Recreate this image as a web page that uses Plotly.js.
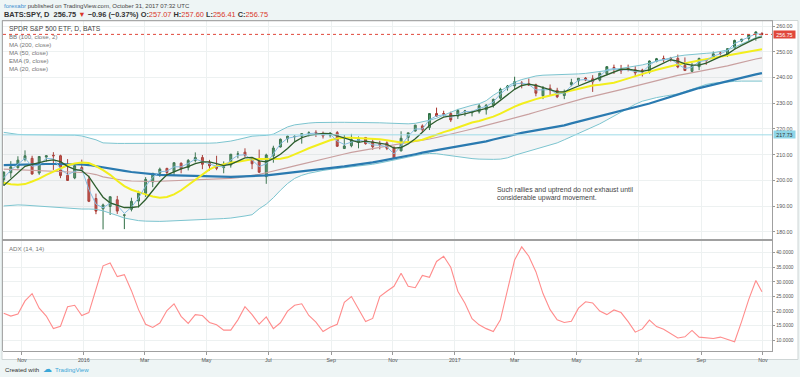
<!DOCTYPE html>
<html><head><meta charset="utf-8">
<script src="https://cdn.plot.ly/plotly-3.0.1.min.js"></script>
<style>html,body{margin:0;padding:0;background:#eef5f5;}#chart{width:800px;height:377px;}</style>
</head><body><div id="chart"></div>
<script>
// Weekly time axis (mid-week dates)
const weeks = ["2015-10-14","2015-10-21","2015-10-28","2015-11-04","2015-11-11","2015-11-18","2015-11-25","2015-12-02","2015-12-09","2015-12-16","2015-12-23","2015-12-30",
"2016-01-06","2016-01-13","2016-01-20","2016-01-27","2016-02-03","2016-02-10","2016-02-17","2016-02-24","2016-03-02","2016-03-09","2016-03-16","2016-03-23","2016-03-30","2016-04-06","2016-04-13","2016-04-20","2016-04-27","2016-05-04","2016-05-11","2016-05-18","2016-05-25","2016-06-01","2016-06-08","2016-06-15","2016-06-22","2016-06-29","2016-07-06","2016-07-13","2016-07-20","2016-07-27","2016-08-03","2016-08-10","2016-08-17","2016-08-24","2016-08-31","2016-09-07","2016-09-14","2016-09-21","2016-09-28","2016-10-05","2016-10-12","2016-10-19","2016-10-26","2016-11-02","2016-11-09","2016-11-16","2016-11-23","2016-11-30","2016-12-07","2016-12-14","2016-12-21","2016-12-28",
"2017-01-04","2017-01-11","2017-01-18","2017-01-25","2017-02-01","2017-02-08","2017-02-15","2017-02-22","2017-03-01","2017-03-08","2017-03-15","2017-03-22","2017-03-29","2017-04-05","2017-04-12","2017-04-19","2017-04-26","2017-05-03","2017-05-10","2017-05-17","2017-05-24","2017-05-31","2017-06-07","2017-06-14","2017-06-21","2017-06-28","2017-07-05","2017-07-12","2017-07-19","2017-07-26","2017-08-02","2017-08-09","2017-08-16","2017-08-23","2017-08-30","2017-09-06","2017-09-13","2017-09-20","2017-09-27","2017-10-04","2017-10-11","2017-10-18","2017-10-25","2017-10-31"];

const open  = [200.3,203.0,205.0,208.2,208.6,202.9,209.1,209.8,209.6,202.0,201.0,205.0,
200.5,193.0,189.0,189.9,192.5,186.5,188.8,192.0,195.0,199.4,202.8,204.7,203.4,206.7,205.0,207.8,208.9,206.9,205.6,205.0,206.0,210.2,211.0,208.5,207.4,201.5,209.5,213.0,216.2,217.0,217.2,218.3,218.7,218.3,217.6,218.6,212.4,213.5,214.9,216.7,215.0,214.2,214.6,212.9,211.5,216.7,219.2,221.2,220.6,226.0,226.0,226.0,
225.0,226.7,226.3,226.7,227.5,229.2,232.0,236.0,236.8,237.9,237.6,237.2,232.9,235.8,235.0,233.0,237.2,238.7,239.8,239.5,239.0,241.5,243.9,243.1,243.6,243.0,242.9,242.1,246.3,247.4,247.5,247.4,244.7,242.4,244.2,247.0,248.0,249.5,249.0,251.5,254.2,255.2,257.0,257.07];
const high  = [203.4,207.5,209.4,211.7,209.6,209.2,209.8,211.0,210.0,208.3,206.5,208.1,
201.9,194.9,191.0,193.7,194.0,186.9,193.3,196.0,201.3,202.8,205.0,204.9,207.0,207.0,208.3,210.9,209.9,208.0,209.6,207.4,210.3,211.4,212.5,209.0,212.0,210.4,213.5,216.3,217.4,217.6,218.2,219.1,219.5,219.0,218.8,219.2,217.6,218.1,217.1,216.9,216.0,215.4,215.2,213.2,219.1,218.5,221.6,221.8,226.0,228.3,227.1,226.7,
227.8,227.4,227.1,229.7,229.6,231.8,236.0,237.1,240.3,238.6,239.6,237.6,236.7,237.3,236.0,235.3,239.5,239.7,240.2,240.9,241.7,244.4,245.0,244.9,245.0,244.4,243.4,246.6,247.6,248.5,248.0,248.9,247.8,245.6,247.7,247.3,250.1,250.2,251.3,254.7,255.0,256.7,257.9,257.60];
const low   = [198.0,201.0,204.6,207.4,202.3,202.2,207.3,204.1,200.9,200.0,200.5,203.8,
191.6,186.9,181.0,186.6,187.0,181.1,188.0,189.5,193.6,197.4,201.4,202.0,202.1,202.8,203.9,207.0,204.4,203.8,204.0,202.8,205.0,208.6,209.1,204.4,203.0,198.7,206.9,212.8,214.7,215.1,214.3,217.1,216.9,216.3,216.7,213.0,212.3,212.9,212.5,213.9,211.9,212.1,211.8,208.4,211.3,215.3,219.0,218.7,219.6,224.7,224.9,222.7,
223.9,225.0,224.9,226.0,225.6,228.3,231.5,234.9,235.5,235.8,236.8,232.7,231.6,233.1,232.0,231.6,236.6,237.0,238.6,234.4,238.5,240.9,241.4,241.4,242.4,240.5,240.4,241.5,245.9,245.9,246.2,243.6,242.9,242.1,242.9,244.9,247.5,248.6,248.0,251.3,253.7,254.2,254.3,256.41];
const close = [203.3,205.3,207.9,209.6,202.5,209.3,209.6,209.6,201.9,200.0,205.7,203.9,
191.9,188.1,190.5,193.7,188.1,186.6,191.9,195.1,200.4,202.8,204.4,203.1,206.9,204.5,207.8,208.9,206.3,205.7,204.7,205.5,210.2,210.3,209.8,206.5,203.2,209.9,212.6,216.0,217.2,217.1,218.2,218.5,218.5,217.3,218.4,213.3,213.4,215.9,216.3,214.3,213.1,213.9,212.5,208.6,216.4,218.5,221.5,219.7,226.0,225.0,225.7,223.5,
227.2,227.0,226.7,229.0,229.3,231.5,235.4,236.7,238.4,237.7,237.0,233.9,235.7,235.2,232.5,234.6,238.1,239.7,239.0,238.3,241.7,244.2,243.4,242.6,243.1,241.8,242.1,246.4,247.3,246.9,247.4,244.1,242.7,244.6,247.4,246.6,249.2,249.4,251.2,254.4,254.9,256.7,257.7,256.75];

// Indicator readings
const bbUpper = [218.7,218.3,217.9,217.8,217.8,217.8,217.8,217.8,217.8,217.8,217.6,217.3,
216.7,215.8,214.6,214.4,214.4,214.4,214.4,214.4,214.3,214.3,214.3,214.3,214.3,214.3,214.3,214.3,214.4,214.5,214.6,214.9,215.3,215.9,216.6,217.2,217.4,217.5,218.0,219.5,220.8,221.6,222.0,222.3,222.5,222.6,222.6,222.6,222.6,222.6,222.6,222.6,222.5,222.4,222.3,222.2,222.1,222.0,222.2,222.7,223.4,224.2,225.2,226.5,
227.6,228.5,229.2,229.8,231.0,233.1,234.8,236.5,238.2,239.2,240.0,240.6,240.9,241.0,241.0,241.0,241.1,241.4,241.6,241.9,242.3,242.7,243.1,243.5,244.0,244.5,244.9,245.6,246.3,247.0,247.7,248.3,248.7,249.0,249.3,249.4,249.6,250.1,250.7,251.8,253.1,254.4,255.5,256.3];
const bbBasis = [204.4,204.3,204.2,204.1,204.0,203.9,203.8,203.7,203.6,203.5,203.3,203.1,
202.8,202.3,201.4,200.9,200.4,200.0,199.8,199.7,199.6,199.6,199.7,199.8,199.9,200.0,200.0,200.1,200.2,200.3,200.4,200.6,200.8,201.1,201.5,201.9,202.4,203.0,203.6,204.3,205.0,205.7,206.4,207.1,207.8,208.5,209.1,209.7,210.3,210.9,211.4,212.0,212.5,213.0,213.5,214.0,214.4,214.8,215.2,215.6,216.1,216.7,217.3,217.9,
218.6,219.3,220.0,220.7,221.4,222.1,222.8,223.5,224.2,225.0,225.8,226.6,227.4,228.2,229.0,229.8,230.6,231.4,232.1,232.7,233.3,233.9,234.6,235.3,236.0,236.7,237.4,238.1,238.8,239.5,240.2,240.8,241.3,241.8,242.3,242.8,243.3,243.9,244.5,245.2,245.9,246.6,247.2,247.6];
const bbLower = [190.1,190.3,190.5,190.4,190.2,190.0,189.8,189.6,189.4,189.2,189.0,188.9,
188.9,188.8,188.2,187.4,186.4,185.4,184.8,184.4,184.2,184.1,184.1,184.2,184.3,184.4,184.5,184.6,184.7,184.9,185.0,185.2,185.4,185.7,186.2,186.7,189.0,190.8,193.3,196.2,198.8,200.8,202.0,202.8,203.4,203.9,204.3,204.6,204.9,205.2,205.5,205.9,206.3,206.8,207.3,207.9,208.5,209.1,209.7,210.2,210.5,210.4,210.0,209.6,
209.2,208.8,208.5,208.3,208.2,208.2,208.3,208.8,209.8,210.6,211.4,212.1,212.8,213.5,214.6,215.8,217.0,218.2,219.3,220.6,222.0,223.5,225.1,226.7,228.2,229.6,230.8,231.6,232.2,232.7,233.1,233.6,234.5,235.5,236.5,237.3,237.8,238.1,238.3,238.5,238.6,238.6,238.6,238.6];
const ma200 = [206.0,206.1,206.2,206.3,206.4,206.4,206.4,206.4,206.4,206.4,206.3,206.2,
206.0,205.5,205.0,204.6,204.2,203.7,203.3,203.0,202.7,202.5,202.2,202.1,202.0,201.8,201.7,201.7,201.6,201.5,201.5,201.4,201.4,201.5,201.6,201.7,201.8,202.0,202.3,202.6,203.0,203.3,203.6,204.0,204.3,204.6,204.9,205.2,205.5,205.9,206.2,206.6,207.0,207.5,208.0,208.5,209.1,209.6,210.2,210.8,211.3,211.9,212.4,212.9,
213.3,213.7,214.2,214.6,215.2,215.9,216.6,217.3,218.0,218.5,219.0,219.5,220.0,220.4,220.9,221.4,222.2,222.9,223.6,224.3,225.0,225.7,226.4,227.1,227.8,228.4,229.0,229.9,230.8,231.7,232.6,233.5,234.3,235.1,235.9,236.6,237.3,238.0,238.7,239.4,240.0,240.6,241.2,241.7];
const ma50 = [199.1,198.5,198.3,198.6,199.6,200.7,202.2,203.5,204.9,205.9,206.6,207.0,
206.8,205.6,204.0,202.2,199.9,197.8,196.4,195.4,194.6,193.8,193.3,193.6,194.6,196.2,198.2,200.2,202.4,204.3,205.6,206.4,206.9,207.3,207.8,208.2,208.3,208.3,208.3,208.4,209.0,210.0,211.3,212.5,213.6,214.6,215.6,216.3,216.6,216.6,216.5,216.4,216.2,216.0,215.6,215.1,214.8,214.9,215.3,215.8,216.8,217.9,218.8,219.6,
220.6,221.6,222.5,223.1,223.8,224.8,226.0,227.4,228.7,229.8,230.8,231.6,232.3,233.0,233.6,234.2,234.9,235.6,236.3,236.9,237.2,237.5,238.0,238.8,239.7,240.6,241.4,242.2,243.0,243.8,244.4,245.0,245.6,246.1,246.6,247.1,247.6,248.0,248.4,248.9,249.5,250.0,250.6,251.0];
const ema9 = [201.0,204.0,206.3,208.6,205.5,206.0,208.6,208.4,204.6,202.3,203.5,204.5,
196.5,190.8,189.4,191.2,190.4,187.2,189.6,193.2,197.8,201.2,203.4,203.6,205.3,205.3,206.6,208.3,207.4,206.3,205.5,205.3,207.9,209.8,210.0,208.0,205.4,206.5,210.5,214.2,216.4,216.9,217.5,218.2,218.4,217.8,218.0,215.3,214.0,214.9,215.8,215.0,213.8,213.7,213.1,210.3,213.5,217.2,220.0,220.0,223.6,225.1,225.5,224.5,
225.8,226.8,226.8,228.0,228.8,230.5,233.6,235.9,237.5,237.8,237.3,235.2,235.2,235.3,233.6,234.0,236.8,239.0,239.2,238.5,240.5,243.0,243.5,242.9,243.0,242.3,242.1,244.8,246.6,246.9,247.2,245.2,243.5,244.0,246.2,246.6,248.3,249.2,250.5,253.2,254.5,256.0,257.0,256.8];
const ma20 = [198.0,200.5,203.0,205.5,206.3,207.0,207.6,208.0,207.3,205.5,204.3,203.8,
201.5,197.4,193.5,191.3,190.3,189.5,189.5,189.8,192.6,196.0,199.5,202.2,203.5,204.5,205.4,206.5,207.2,207.2,206.5,205.8,206.3,207.5,208.8,209.0,207.6,207.2,208.5,210.2,212.4,215.0,216.6,217.5,218.0,218.3,218.2,217.3,216.3,215.4,214.8,215.3,214.8,214.3,214.0,212.6,212.8,214.2,216.2,218.7,221.4,223.2,224.6,225.1,
225.3,225.9,226.6,227.3,228.0,229.0,231.2,233.2,235.4,236.9,237.4,236.9,236.1,235.4,234.4,234.4,235.4,236.7,237.8,238.9,239.7,240.9,242.2,243.2,243.2,242.8,242.4,243.0,244.3,245.7,246.9,246.4,245.3,244.8,244.8,245.6,246.9,248.1,249.1,251.0,252.5,253.9,255.2,255.8];
const adx = [19.3,18.3,19.0,23.5,26.0,21.0,18.3,14.0,14.8,21.5,22.0,18.5,
19.5,27.5,35.5,36.5,31.8,32.5,27.0,20.5,15.5,14.4,15.9,20.2,22.5,18.2,15.8,18.8,18.5,16.1,15.3,13.5,13.5,17.0,21.5,18.8,15.5,18.0,14.0,16.0,20.0,22.0,22.5,18.5,16.2,13.0,14.5,15.5,23.0,25.0,20.5,16.4,17.5,25.0,26.8,28.5,33.0,28.5,28.0,32.2,31.6,37.0,38.8,35.0,
26.8,22.7,17.4,15.3,14.0,13.0,17.0,27.5,37.5,42.0,38.8,33.5,26.0,20.5,17.0,16.1,16.5,21.0,23.2,22.8,20.0,18.8,20.4,19.5,16.4,12.8,13.9,16.9,14.7,13.8,12.2,10.8,11.2,13.4,11.1,10.8,10.6,11.1,10.4,9.5,16.5,24.0,30.5,26.6];

const tickDates = ["2015-11-01","2016-01-01","2016-03-01","2016-05-01","2016-07-01","2016-09-01","2016-11-01","2017-01-01","2017-03-01","2017-05-01","2017-07-01","2017-09-01","2017-11-01"];
const tickText = ["Nov","2016","Mar","May","Jul","Sep","Nov","2017","Mar","May","Jul","Sep","Nov"];
const priceTicks = [180,190,200,210,220,230,240,250,260];
const adxTicks = [10,15,20,25,30,35,40];
const lastPrice = 256.75;
const hLine = 217.73;

const F = "Liberation Sans, Arial, sans-serif";
const W = 800, H = 377;
const px = v => v / W;
const py = v => 1 - v / H;

const traces = [
  {x: weeks, y: bbUpper, type:'scatter', mode:'lines', line:{color:'#7cc4cf', width:1}, xaxis:'x', yaxis:'y', hoverinfo:'skip'},
  {x: weeks, y: bbLower, type:'scatter', mode:'lines', line:{color:'#7cc4cf', width:1}, fill:'tonexty', fillcolor:'rgba(170,180,185,0.13)', xaxis:'x', yaxis:'y', hoverinfo:'skip'},
  {x: weeks, y: bbBasis, type:'scatter', mode:'lines', line:{color:'#c9a0a0', width:1.2}, xaxis:'x', yaxis:'y', hoverinfo:'skip'},
  {x: weeks, y: ma200, type:'scatter', mode:'lines', line:{color:'#2a7ab0', width:2.2}, xaxis:'x', yaxis:'y', hoverinfo:'skip'},
  {x: weeks, y: ma50, type:'scatter', mode:'lines', line:{color:'#f2ee1c', width:2}, xaxis:'x', yaxis:'y', hoverinfo:'skip'},
  {x: weeks, open: open, high: high, low: low, close: close, type:'candlestick', xaxis:'x', yaxis:'y',
   increasing:{line:{color:'#2f6e44', width:1}, fillcolor:'#4f9a68'},
   decreasing:{line:{color:'#a8322a', width:1}, fillcolor:'#c9463b'}, whiskerwidth:0, hoverinfo:'skip'},
  {x: weeks, y: ema9, type:'scatter', mode:'lines', line:{color:'#86bde2', width:1}, xaxis:'x', yaxis:'y', hoverinfo:'skip'},
  {x: weeks, y: ma20, type:'scatter', mode:'lines', line:{color:'#2e5e2e', width:1.3}, xaxis:'x', yaxis:'y', hoverinfo:'skip'},
  {x: weeks, y: adx, type:'scatter', mode:'lines', line:{color:'#ff8c8c', width:1.1}, xaxis:'x', yaxis:'y2', hoverinfo:'skip'}
];

const ann = [];
function txt(x, y, text, size, color, family) {
  ann.push({xref:'paper', yref:'paper', x:px(x), y:py(y), text:text, showarrow:false,
    xanchor:'left', yanchor:'middle', font:{family: family || F, size:size, color:color}});
}
txt(2, 6, '<span style="color:#3a8fd0">forexabr</span> published on TradingView.com, October 31, 2017 07:32 UTC', 6, '#444');
txt(2, 14.5, '<b>BATS:SPY, D</b>  <b>256.75</b> <span style="color:#d9372b">▼</span> <b>−0.96 (−0.37%)</b> <b>O:</b><span style="color:#d9372b">257.07</span> <b>H:</b><span style="color:#d9372b">257.60</span> <b>L:</b><span style="color:#d9372b">256.41</span> <b>C:</b><span style="color:#d9372b">256.75</span>', 7.4, '#333');
txt(7, 28.3, 'SPDR S&P 500 ETF, D, BATS', 6.8, '#444');
const legendItems = ['BB (100, close, 2)','MA (200, close)','MA (50, close)','EMA (9, close)','MA (20, close)'];
legendItems.forEach((t,i) => txt(7, 36.5 + 8*i, t, 6.1, '#777'));
txt(7, 248, 'ADX (14, 14)', 6.1, '#777');
txt(494.5, 190, 'Such rallies and uptrend do not exhaust until', 6.9, '#444');
txt(494.5, 198, 'considerable upward movement.', 6.9, '#444');
txt(3, 369, 'Created with', 6.1, '#333');
txt(40.5, 368.5, '☁', 9, '#3aa7d8', 'DejaVu Sans');
txt(52.5, 369, 'TradingView', 6.1, '#3aa7d8');
// price labels on axis
ann.push({xref:'paper', yref:'y', x:px(773), y:lastPrice, text:'256.75', showarrow:false, xanchor:'left', yanchor:'middle',
  bgcolor:'#e0473a', borderpad:0.5, font:{family:F,size:5.3,color:'#fff'}, width:20, height:6});
ann.push({xref:'paper', yref:'y', x:px(773), y:hLine, text:'217.73', showarrow:false, xanchor:'left', yanchor:'middle',
  bgcolor:'#8fd6e8', borderpad:0.5, font:{family:F,size:5.3,color:'#333'}, width:20, height:6});

const shapes = [
  {type:'rect', xref:'paper', yref:'paper', x0:px(2), x1:px(798), y0:py(359.5), y1:py(20.5), fillcolor:'#ffffff', line:{color:'#cfd6d6', width:1}, layer:'below'},
  {type:'line', xref:'paper', yref:'paper', x0:px(2), x1:px(773), y0:py(20.7), y1:py(20.7), line:{color:'#a8a8a8', width:1.2}},
  {type:'line', xref:'paper', yref:'paper', x0:px(2.5), x1:px(2.5), y0:py(351), y1:py(20.7), line:{color:'#a8a8a8', width:1}},
  {type:'line', xref:'paper', yref:'paper', x0:px(2), x1:px(773), y0:py(240), y1:py(240), line:{color:'#a0a0a0', width:1.8}},
  {type:'line', xref:'paper', yref:'y', x0:px(3), x1:px(772), y0:hLine, y1:hLine, line:{color:'#9fdbe8', width:1}},
  {type:'line', xref:'paper', yref:'y', x0:px(3), x1:px(772), y0:lastPrice, y1:lastPrice, line:{color:'#e0473a', width:1, dash:'dot'}}
];

const gridC = '#edf1f1';
const layout = {
  width: W, height: H,
  margin:{l:0, r:0, t:0, b:0},
  paper_bgcolor:'#eef5f5', plot_bgcolor:'#ffffff',
  showlegend:false,
  boxgap:0.55,
  font:{family:F, size:6, color:'#555'},
  xaxis:{type:'date', domain:[px(3), px(772)], anchor:'y2', range:['2015-10-13 07:00','2017-11-09 22:00'],
    tickmode:'array', tickvals:tickDates, ticktext:tickText, ticks:'outside', ticklen:3, tickcolor:'#999',
    showgrid:true, gridcolor:gridC, gridwidth:1, showline:true, linecolor:'#a0a0a0', linewidth:1.2,
    tickfont:{family:F, size:5.3, color:'#555'}, rangeslider:{visible:false}, fixedrange:true, zeroline:false},
  yaxis:{domain:[py(240.5), py(20.7)], anchor:'x', side:'right', range:[176.68, 262.07],
    tickmode:'array', tickvals:priceTicks, tickformat:'.2f',
    ticks:'outside', ticklen:2, tickcolor:'#999', showgrid:true, gridcolor:gridC,
    showline:true, linecolor:'#a0a0a0', linewidth:1.2, tickfont:{family:F, size:5.3, color:'#555'}, zeroline:false},
  yaxis2:{domain:[py(351), py(240.5)], anchor:'x', side:'right', range:[6.34, 44.18],
    tickmode:'array', tickvals:adxTicks, tickformat:'.4f',
    ticks:'outside', ticklen:2, tickcolor:'#999', showgrid:true, gridcolor:gridC,
    showline:true, linecolor:'#a0a0a0', linewidth:1.2, tickfont:{family:F, size:4.8, color:'#555'}, zeroline:false},
  annotations: ann,
  shapes: shapes
};

Plotly.newPlot('chart', traces, layout, {staticPlot:true, displayModeBar:false});
</script>
</body></html>
